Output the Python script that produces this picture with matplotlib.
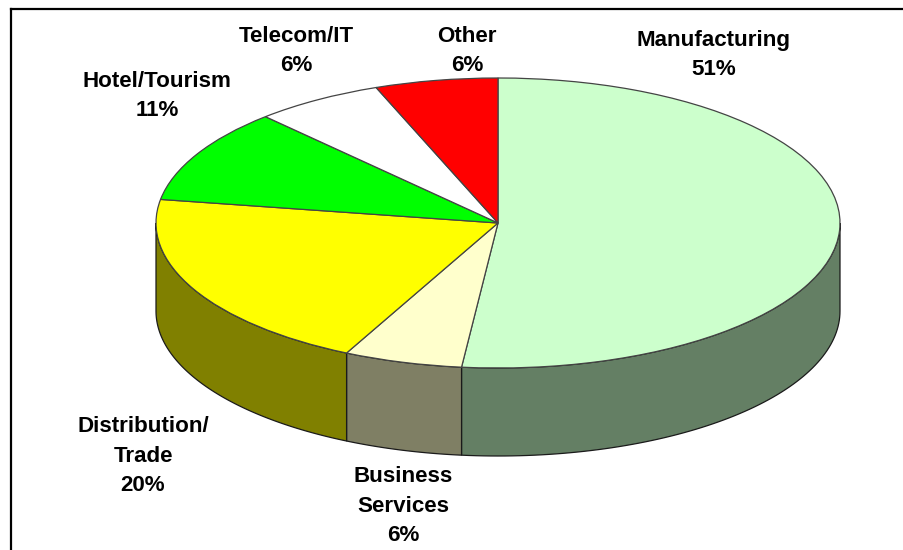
import numpy as np
import matplotlib
matplotlib.use('Agg')
import matplotlib.pyplot as plt

plt.rcParams['font.family'] = ['Liberation Sans', 'DejaVu Sans']

# Slice sizes, printed labels stay as published
names = ['Manufacturing\n51%', 'Business\nServices\n6%', 'Distribution/\nTrade\n20%',
         'Hotel/Tourism\n11%', 'Telecom/IT\n6%', 'Other\n6%']
shares = [51.7, 5.6, 20.3, 10.5, 6.1, 5.8]
top_colors = ['#CCFFCC', '#FFFFCC', '#FFFF00', '#00FF00', '#FFFFFF', '#FF0000']
wall_colors = ['#647F64', '#7F7F64', '#808000', '#008000', '#808080', '#800000']

# Label centres in image pixels
label_x = [714, 403, 143, 157, 296, 467]
label_y = [55, 506, 456, 96, 51, 51]

# Pie geometry in image pixels
W, H = 904, 550
cx, cy = 498, 223
rx, ry = 342, 145
depth = 88 / ry
left, top = 10.5, 8.5

fig = plt.figure(figsize=(W / 100, H / 100), dpi=100, facecolor='white')
ax = fig.add_axes([left / W, 0, 1 - left / W, 1 - top / H])

# Walls first, only the front half of the rim can be seen
edges = 90 - 360 * np.cumsum([0] + shares) / np.sum(shares)
for i in range(len(shares)):
    a0 = min(max(edges[i], -180), 0)
    a1 = min(max(edges[i + 1], -180), 0)
    if a0 == a1:
        continue
    th = np.radians(np.linspace(a0, a1, 80))
    xs = np.cos(th)
    ys = np.sin(th)
    ax.fill(np.r_[xs, xs[::-1]], np.r_[ys, ys[::-1] - depth],
            facecolor=wall_colors[i], edgecolor='#1a1a1a', linewidth=0.9)

ax.pie(shares, colors=top_colors, startangle=90, counterclock=False, radius=1,
       wedgeprops={'edgecolor': '#444444', 'linewidth': 0.9})

ax.set_aspect('auto')
ax.set_xlim((left - cx) / rx, (W - cx) / rx)
ax.set_ylim((cy - H) / ry, (cy - top) / ry)
ax.set_xticks([])
ax.set_yticks([])
ax.set_frame_on(True)
ax.spines['right'].set_visible(False)
ax.spines['bottom'].set_visible(False)
ax.spines['left'].set_linewidth(1.6)
ax.spines['top'].set_linewidth(1.6)

for name, px, py in zip(names, label_x, label_y):
    ax.text((px - cx) / rx, (cy - py) / ry, name, ha='center', va='center',
            fontsize=16.1, fontweight='bold', color='black', linespacing=1.55)

fig.savefig('out.png', dpi=100)
